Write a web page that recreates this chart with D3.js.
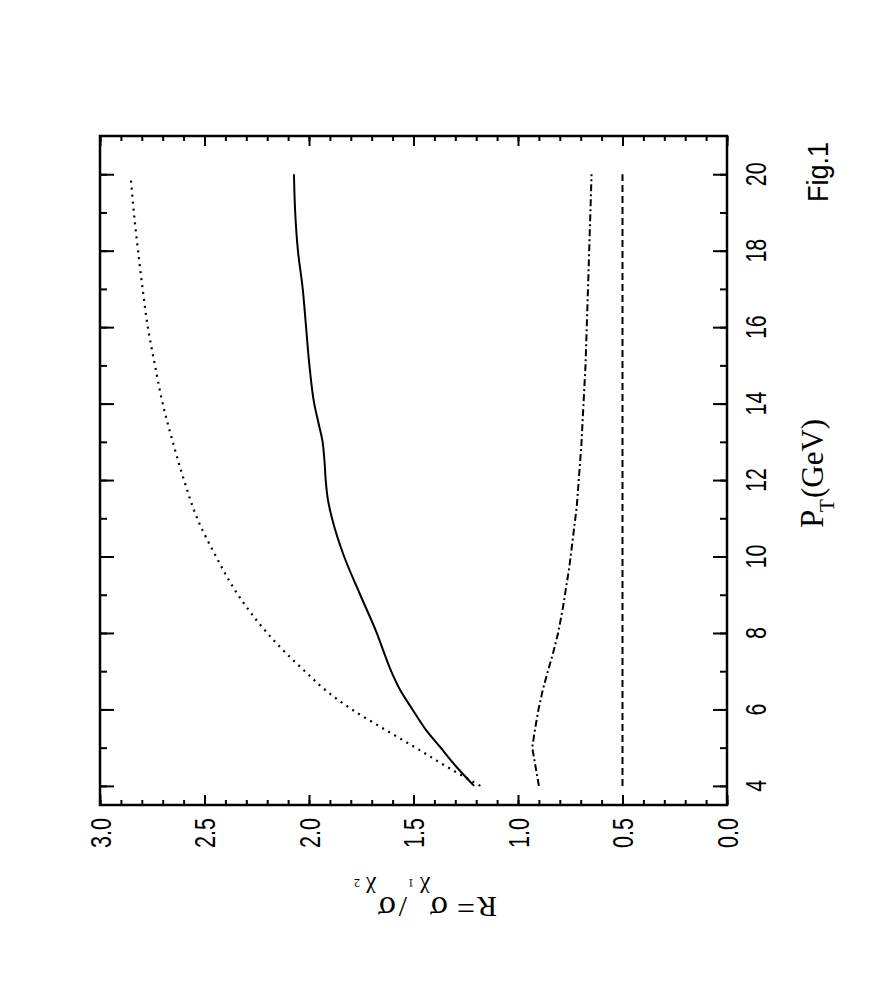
<!DOCTYPE html>
<html>
<head>
<meta charset="utf-8">
<script src="https://cdn.jsdelivr.net/npm/d3@7"></script>
<style>
  html, body { margin: 0; padding: 0; background: #fff; }
  svg { display: block; }
</style>
</head>
<body>
<svg id="chart" width="872" height="981"></svg>
<script>
// ---- data (P_T in GeV, R ratio) ----
const dottedPt = [4, 4.5, 5, 5.5, 6, 6.5, 7, 7.5, 8, 9, 10, 11, 12, 13, 14, 15, 16, 17, 18, 19, 19.85];
const dottedR  = [1.18, 1.34, 1.49, 1.645, 1.795, 1.92, 2.02, 2.115, 2.20, 2.34, 2.445, 2.535, 2.598, 2.652, 2.70, 2.737, 2.771, 2.796, 2.818, 2.838, 2.852];

const solidPt = [4, 4.5, 5, 5.5, 6, 6.5, 7, 7.5, 8, 9, 10, 11, 11.5, 12, 12.5, 13, 13.5, 14, 15, 16, 17, 18, 19, 20];
const solidR  = [1.21, 1.295, 1.37, 1.445, 1.505, 1.563, 1.607, 1.642, 1.676, 1.755, 1.832, 1.890, 1.910, 1.920, 1.926, 1.935, 1.955, 1.975, 1.998, 2.014, 2.030, 2.053, 2.066, 2.072];

const dashdotPt = [4, 5, 5.5, 6, 6.5, 7, 7.5, 8, 8.6, 9.7, 11.3, 12.9, 15, 17.2, 20];
const dashdotR  = [0.90, 0.932, 0.918, 0.902, 0.882, 0.857, 0.831, 0.808, 0.787, 0.755, 0.719, 0.697, 0.677, 0.664, 0.648];

const dashedPt = [4, 20];
const dashedR  = [0.5, 0.5];

const ptTickValues = [4, 6, 8, 10, 12, 14, 16, 18, 20];
const rTickValues  = [0, 0.5, 1.0, 1.5, 2.0, 2.5, 3.0];
const rTickLabels  = ["0.0", "0.5", "1.0", "1.5", "2.0", "2.5", "3.0"];

// ---- layout ----
const svg = d3.select("#chart");
const L = 100, T = 136, Rr = 727, B = 805;

const yPt = d3.scaleLinear().domain([3.5, 21]).range([B, T]);
const xR  = d3.scaleLinear().domain([0, 3]).range([Rr, L]);

const ptMinor = d3.range(4, 21, 1);
const rMinor  = d3.range(0, 31, 1).map(d => d / 10);

function styleAxis(g) {
  g.select(".domain").remove();
  g.selectAll(".tick line").attr("stroke", "#000").attr("stroke-width", 2);
  g.selectAll(".tick text").remove();
}

// vertical axes (P_T) left and right
svg.append("g").attr("transform", `translate(${L},0)`)
  .call(d3.axisLeft(yPt).tickValues(ptMinor).tickSize(-7).tickFormat("")).call(styleAxis);
svg.append("g").attr("transform", `translate(${L},0)`)
  .call(d3.axisLeft(yPt).tickValues(ptTickValues).tickSize(-14).tickFormat("")).call(styleAxis);
svg.append("g").attr("transform", `translate(${Rr},0)`)
  .call(d3.axisRight(yPt).tickValues(ptMinor).tickSize(-7).tickFormat("")).call(styleAxis);
svg.append("g").attr("transform", `translate(${Rr},0)`)
  .call(d3.axisRight(yPt).tickValues(ptTickValues).tickSize(-14).tickFormat("")).call(styleAxis);

// horizontal axes (R) top and bottom
svg.append("g").attr("transform", `translate(0,${T})`)
  .call(d3.axisTop(xR).tickValues(rMinor).tickSize(-5).tickFormat("")).call(styleAxis);
svg.append("g").attr("transform", `translate(0,${T})`)
  .call(d3.axisTop(xR).tickValues(rTickValues).tickSize(-10).tickFormat("")).call(styleAxis);
svg.append("g").attr("transform", `translate(0,${B})`)
  .call(d3.axisBottom(xR).tickValues(rMinor).tickSize(-5).tickFormat("")).call(styleAxis);
svg.append("g").attr("transform", `translate(0,${B})`)
  .call(d3.axisBottom(xR).tickValues(rTickValues).tickSize(-10).tickFormat("")).call(styleAxis);

// frame
svg.append("rect").attr("x", L).attr("y", T).attr("width", Rr - L).attr("height", B - T)
  .attr("fill", "none").attr("stroke", "#000").attr("stroke-width", 2.5);

// tick labels (rotated)
const sans = "'Liberation Sans', Arial, Helvetica, sans-serif";
svg.append("g").selectAll("text").data(rTickValues).join("text")
  .attr("transform", d => `translate(${xR(d)},833) rotate(-90) scale(0.72,1)`)
  .attr("text-anchor", "middle").attr("dy", "0.36em")
  .attr("font-family", sans).attr("font-size", 30).attr("fill", "#000")
  .text((d, i) => rTickLabels[i]);

svg.append("g").selectAll("text").data(ptTickValues).join("text")
  .attr("transform", d => `translate(756,${yPt(d)}) rotate(-90) scale(0.74,1)`)
  .attr("text-anchor", "middle").attr("dy", "0.36em")
  .attr("font-family", sans).attr("font-size", 29).attr("fill", "#000")
  .text(d => d);

// ---- curves ----
function pts(ptArr, rArr) { return ptArr.map((p, i) => [xR(rArr[i]), yPt(p)]); }
const smooth = d3.line().curve(d3.curveMonotoneY);
const straight = d3.line();

const plot = svg.append("g").attr("fill", "none").attr("stroke", "#000");
plot.append("path").attr("d", smooth(pts(dottedPt, dottedR)))
  .attr("stroke-width", 2.2).attr("stroke-dasharray", "2 5");
plot.append("path").attr("d", smooth(pts(solidPt, solidR)))
  .attr("stroke-width", 2);
plot.append("path").attr("d", straight(pts(dashdotPt, dashdotR)))
  .attr("stroke-width", 2).attr("stroke-dasharray", "7 3 2 3");
plot.append("path").attr("d", straight(pts(dashedPt, dashedR)))
  .attr("stroke-width", 2).attr("stroke-dasharray", "7 4");

// ---- titles ----
const serif = "'Liberation Serif', 'Times New Roman', Times, serif";

// y (R) title, upside-down
const rt = svg.append("g").attr("transform", "translate(497,897) rotate(180)")
  .attr("font-family", serif).attr("fill", "#000");
rt.append("text").attr("x", 0).attr("y", 0).attr("font-size", 30).text("R");
rt.append("text").attr("x", 22).attr("y", 0).attr("font-size", 32).text("=");
rt.append("text").attr("x", 49).attr("y", 0).attr("font-size", 34).text("σ");
rt.append("text").attr("x", 67).attr("y", 15).attr("font-size", 23).text("χ");
rt.append("text").attr("x", 83).attr("y", 18).attr("font-size", 12).text("1");
rt.append("text").attr("x", 90).attr("y", 0).attr("font-size", 30).text("/");
rt.append("text").attr("x", 101).attr("y", 0).attr("font-size", 34).text("σ");
rt.append("text").attr("x", 121).attr("y", 15).attr("font-size", 23).text("χ");
rt.append("text").attr("x", 137).attr("y", 18).attr("font-size", 12).text("2");

// x (P_T) title, rotated
const pt = svg.append("g").attr("transform", "translate(823,528) rotate(-90)")
  .attr("font-family", serif).attr("fill", "#000");
pt.append("text").attr("x", 0).attr("y", 0).attr("font-size", 33).text("P");
pt.append("text").attr("x", 16).attr("y", 11).attr("font-size", 21).text("T");
pt.append("text").attr("x", 30).attr("y", 0).attr("font-size", 31).text("(GeV)");

// Fig.1
svg.append("text").attr("transform", "translate(828,202) rotate(-90) scale(0.93,1)")
  .attr("font-family", sans).attr("font-size", 29).attr("fill", "#000").text("Fig.1");
</script>
</body>
</html>
